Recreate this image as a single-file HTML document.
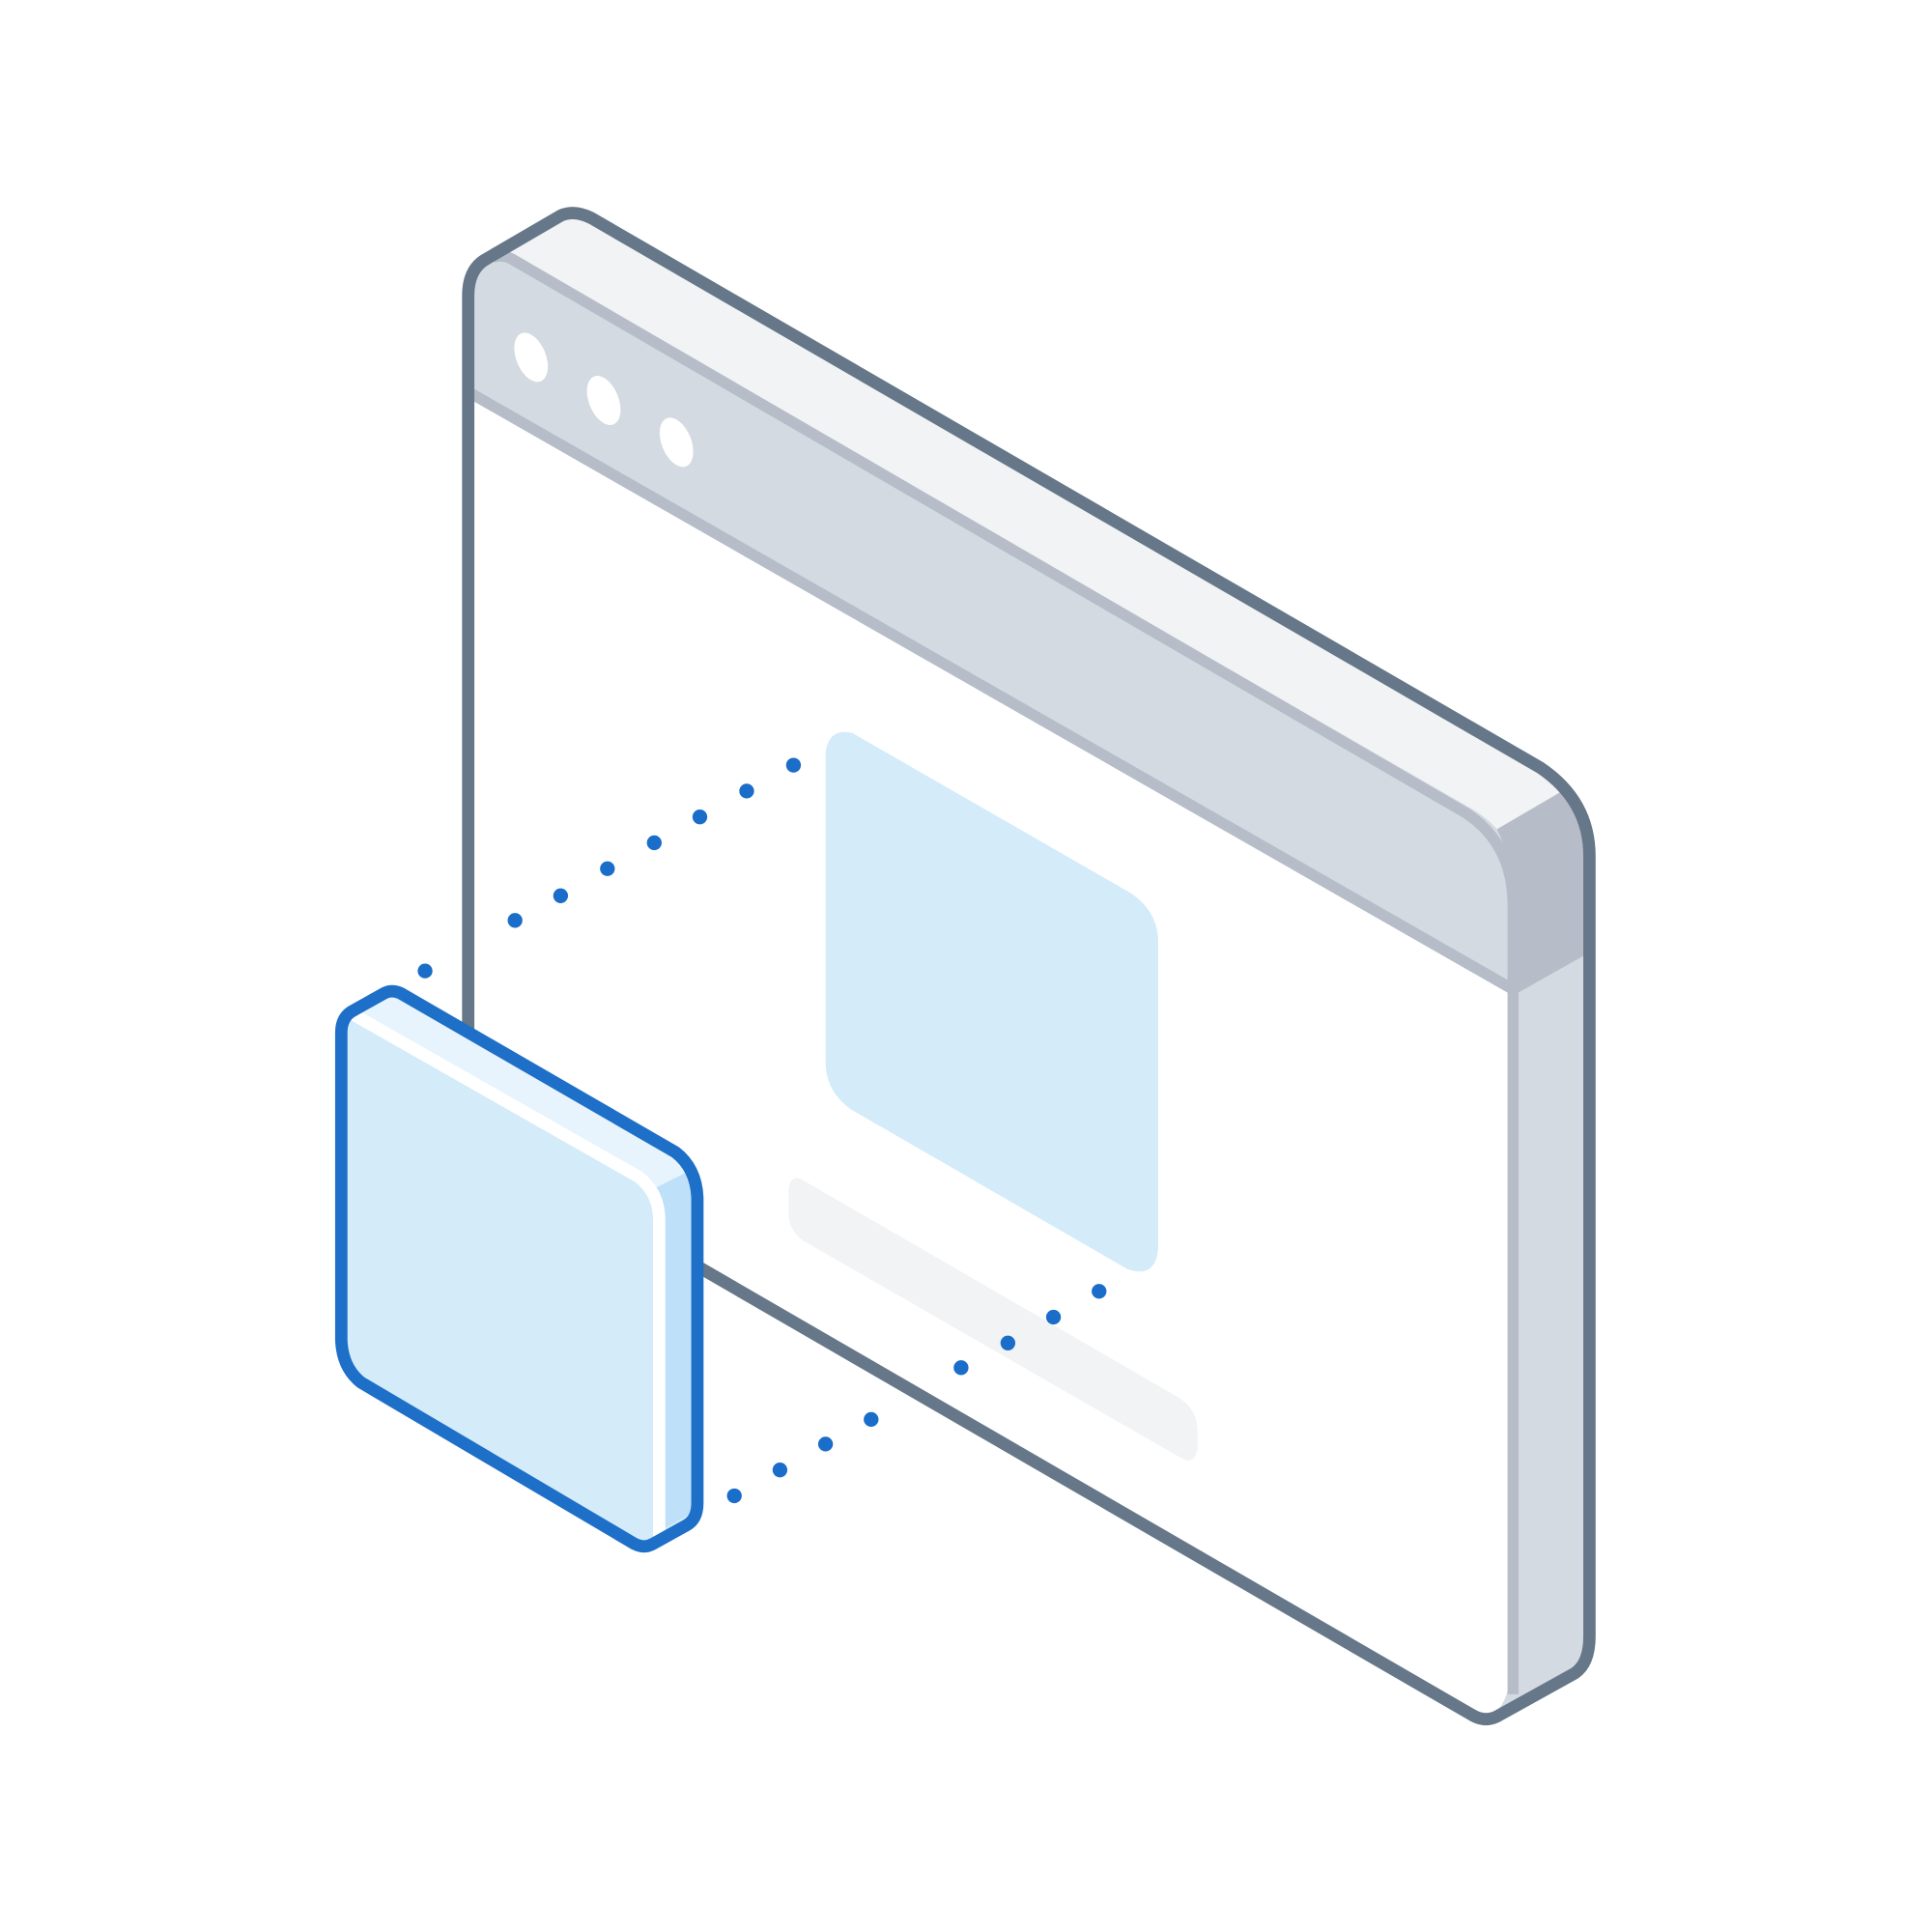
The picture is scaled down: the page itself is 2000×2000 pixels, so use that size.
<!DOCTYPE html>
<html><head><meta charset="utf-8"><style>html,body{margin:0;padding:0;background:#fff}svg{display:block}</style></head>
<body>
<svg width="2000" height="2000" viewBox="0 0 1568 1568" xmlns="http://www.w3.org/2000/svg">
<path d="M380,240 Q380,218 395,210 L455,175 Q466,170 480,177 L1250,623 Q1290,650 1290,695 L1290,1328 Q1290,1350 1278,1358 L1215,1393 Q1205,1398 1195,1392 L380,920 Z" fill="#d4dae1"/>
<path d="M395,210 L455,175 Q466,170 480,177 L1250,623 Q1262,632 1268,642 L1215,673 Q1205,662 1192,655 L410,205 Z" fill="#f1f3f5"/>
<path d="M1215,673 L1268,642 Q1290,670 1290,695 L1290,773 L1228,808 L1228,735 Q1228,700 1215,673 Z" fill="#b6bdc8"/>
<path d="M382,318 L1225,803 L1225,1365 Q1222,1388 1205,1395 L382,921 Z" fill="#fff"/>
<g stroke="#b6bdc8" stroke-width="9" fill="none">
<path d="M380,318 L1228,803"/>
<path d="M400,209 Q407,206 415,210 L1190,660 Q1228,685 1228,735 L1228,1375"/>
</g>
<path d="M380,835 L380,240 Q380,218 395,210 L455,175 Q466,170 480,177 L1250,623 Q1290,650 1290,695 L1290,1328 Q1290,1350 1278,1358 L1215,1393 Q1205,1398 1195,1392 L380,920" fill="none" stroke="#657789" stroke-width="10" stroke-linejoin="round"/>
<g fill="#fff">
<ellipse cx="431" cy="290" rx="12" ry="21" transform="rotate(-22 431 290)"/>
<ellipse cx="490" cy="325" rx="12" ry="21" transform="rotate(-22 490 325)"/>
<ellipse cx="549" cy="359" rx="12" ry="21" transform="rotate(-22 549 359)"/>
</g>
<path d="M670,612 Q672,590 692,595 L918,725 Q940,740 940,765 L940,1013 Q938,1038 915,1030 L690,900 Q670,885 670,862 Z" fill="#d4ebfa"/>
<path d="M640,965 Q642,952 652,958 L958,1135 Q972,1145 972,1162 L972,1175 Q970,1190 958,1183 L652,1007 Q640,998 640,985 Z" fill="#f1f3f5"/>
<g fill="#1a6dc9">
<circle cx="345" cy="788" r="6"/><circle cx="418" cy="747" r="6"/><circle cx="455" cy="727" r="6"/><circle cx="493" cy="705" r="6"/><circle cx="531" cy="684" r="6"/><circle cx="568" cy="663" r="6"/><circle cx="606" cy="642" r="6"/><circle cx="644" cy="621" r="6"/>
<circle cx="596" cy="1214" r="6"/><circle cx="633" cy="1193" r="6"/><circle cx="670" cy="1172" r="6"/><circle cx="707" cy="1152" r="6"/><circle cx="780" cy="1110" r="6"/><circle cx="818" cy="1090" r="6"/><circle cx="855" cy="1069" r="6"/><circle cx="892" cy="1048" r="6"/>
</g>
<path d="M277,838 Q277,825 287,820 L312,806 Q318,803 325,806 L548,935 Q565,948 566,972 L566,1220 Q566,1233 557,1238 L530,1253 Q523,1257 515,1253 L293,1122 Q278,1110 277,1088 Z" fill="#d4ebfa"/>
<path d="M530,965 L560,950 Q566,960 566,972 L566,1225 L530,1246 Z" fill="#bfe0f9"/>
<path d="M282,824 L313,806 L548,935 Q556,942 560,950 L530,965 Q526,955 518,950 Z" fill="#e8f4fd"/>
<path d="M286,823 L518,955 Q535,968 535,990 L535,1247" fill="none" stroke="#fff" stroke-width="10"/>
<path d="M277,838 Q277,825 287,820 L312,806 Q318,803 325,806 L548,935 Q565,948 566,972 L566,1220 Q566,1233 557,1238 L530,1253 Q523,1257 515,1253 L293,1122 Q278,1110 277,1088 Z" fill="none" stroke="#1e6fc8" stroke-width="10" stroke-linejoin="round"/>
</svg>
</body></html>
